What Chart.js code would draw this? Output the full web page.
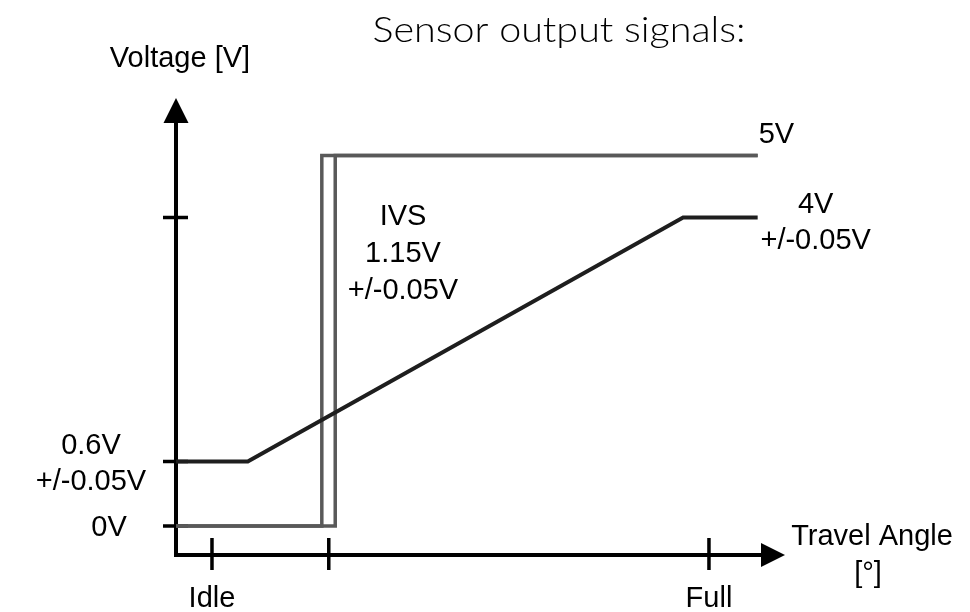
<!DOCTYPE html>
<html>
<head>
<meta charset="utf-8">
<title>Sensor output signals</title>
<script src="https://cdn.jsdelivr.net/npm/chart.js@4.4.1/dist/chart.umd.min.js"></script>
<style>
  html, body { margin: 0; padding: 0; background: #fff; }
  canvas { display: block; }
</style>
</head>
<body>
<canvas id="sensorChart" width="970" height="612"></canvas>
<script>
'use strict';

// x: pedal travel in % (Idle = 0, Full = 100)
// y: the diagram's own level above the travel axis (the sketch is not to scale)
const travelMin = -7.24;
const travelMax = 115.3;
const levelMax = 457;

// IVS switch signal, two edges for the switch point tolerance
const ivsLowTravel = [travelMin, 22.1, 22.1, 109.8];
const ivsHighTravel = [travelMin, 24.8, 24.8, 109.8];
const ivsLevels = [29, 29, 399.5, 399.5];

// Analog sensor signal
const appsTravel = [travelMin, 7.2, 94.8, 109.8];
const appsLevels = [93.5, 93.5, 337.5, 337.5];

// Tick marks and their labels
const travelTicks = [0, 23.5, 100];
const travelTickLabels = ['Idle', '', 'Full'];
const levelTicks = [29, 93.5, 337.5];
const levelTickLabels = [['0V'], ['0.6V', '+/-0.05V'], []];

const FONT = '"Liberation Sans", Arial, sans-serif';
const GREY = '#595959';
const INK = '#1e1e1e';

function toPoints(xs, ys) {
  return xs.map((x, i) => ({ x: x, y: ys[i] }));
}

function textLines(ctx, lines, cx, baseline, step) {
  lines.forEach((t, i) => ctx.fillText(t, cx, baseline + i * step));
}

// Axes with arrow heads, tick marks and all the annotation text
const diagramPlugin = {
  id: 'diagram',
  beforeDatasetsDraw(chart) {
    const ctx = chart.ctx;
    const xs = chart.scales.x;
    const ys = chart.scales.y;
    const x0 = xs.getPixelForValue(travelMin);
    const y0 = ys.getPixelForValue(0);
    const xEnd = xs.getPixelForValue(travelMax);
    const yEnd = ys.getPixelForValue(levelMax);

    ctx.save();
    ctx.strokeStyle = '#000';
    ctx.fillStyle = '#000';
    ctx.lineWidth = 4;
    ctx.beginPath();
    ctx.moveTo(x0, y0 + 2);
    ctx.lineTo(x0, yEnd + 20);
    ctx.moveTo(x0 - 2, y0);
    ctx.lineTo(xEnd - 20, y0);
    ctx.stroke();

    // arrow heads
    ctx.beginPath();
    ctx.moveTo(x0, yEnd);
    ctx.lineTo(x0 - 12.5, yEnd + 25);
    ctx.lineTo(x0 + 12.5, yEnd + 25);
    ctx.closePath();
    ctx.fill();
    ctx.beginPath();
    ctx.moveTo(xEnd, y0);
    ctx.lineTo(xEnd - 24, y0 - 12);
    ctx.lineTo(xEnd - 24, y0 + 12);
    ctx.closePath();
    ctx.fill();

    // tick marks
    ctx.lineWidth = 3.5;
    ctx.beginPath();
    travelTicks.forEach(v => {
      const px = xs.getPixelForValue(v);
      ctx.moveTo(px, y0 - 17);
      ctx.lineTo(px, y0 + 15);
    });
    levelTicks.forEach(v => {
      const py = ys.getPixelForValue(v);
      ctx.moveTo(x0 - 13, py);
      ctx.lineTo(x0 + 12, py);
    });
    ctx.stroke();
    ctx.restore();
  },
  afterDraw(chart) {
    const ctx = chart.ctx;
    const xs = chart.scales.x;
    const ys = chart.scales.y;
    const y0 = ys.getPixelForValue(0);

    ctx.save();
    ctx.fillStyle = '#000';
    ctx.textAlign = 'center';
    ctx.textBaseline = 'alphabetic';

    // title, thin round face squeezed to the reference width
    ctx.font = '300 35px Lato, "Open Sans", sans-serif';
    const title = 'Sensor output signals:';
    const sx = 373 / ctx.measureText(title).width;
    ctx.save();
    ctx.translate(559, 42);
    ctx.scale(sx, 1);
    ctx.fillText(title, 0, 0);
    ctx.restore();

    ctx.font = '29px ' + FONT;
    ctx.fillText('Voltage [V]', 180, 67);

    // travel tick labels
    travelTicks.forEach((v, i) => {
      if (travelTickLabels[i]) ctx.fillText(travelTickLabels[i], xs.getPixelForValue(v), y0 + 52);
    });
    ctx.fillText('Travel Angle', 872, 545);
    ctx.fillText('[\u00b0]', 868, 582);

    // level tick labels
    const labelCenters = [109, 91, 91];
    levelTicks.forEach((v, i) => {
      const lines = levelTickLabels[i];
      if (!lines.length) return;
      const py = ys.getPixelForValue(v);
      const first = py + 10 - (lines.length - 1) * 18;
      textLines(ctx, lines, labelCenters[i], first, 36);
    });

    // signal annotations
    const endX = xs.getPixelForValue(ivsLowTravel[3]);
    const topY = ys.getPixelForValue(ivsLevels[3]);
    const appsY = ys.getPixelForValue(appsLevels[3]);
    ctx.textAlign = 'left';
    ctx.fillText('5V', endX + 1, topY - 13);
    ctx.textAlign = 'center';
    textLines(ctx, ['4V', '+/-0.05V'], endX + 58, appsY - 5, 36);
    textLines(ctx, ['IVS', '1.15V', '+/-0.05V'], 403, 225, 37);
    ctx.restore();
  }
};

new Chart(document.getElementById('sensorChart').getContext('2d'), {
  type: 'line',
  data: {
    datasets: [
      {
        label: 'Analog signal',
        data: toPoints(appsTravel, appsLevels),
        borderColor: INK,
        borderWidth: 4
      },
      {
        label: 'IVS low edge',
        data: toPoints(ivsLowTravel, ivsLevels),
        borderColor: GREY,
        borderWidth: 3.5
      },
      {
        label: 'IVS high edge',
        data: toPoints(ivsHighTravel, ivsLevels),
        borderColor: GREY,
        borderWidth: 3.5
      }
    ]
  },
  options: {
    responsive: false,
    animation: false,
    events: [],
    parsing: false,
    layout: { padding: { left: 176, top: 98, right: 185, bottom: 57 } },
    elements: {
      line: { tension: 0, fill: false, borderJoinStyle: 'miter', borderCapStyle: 'butt' },
      point: { radius: 0 }
    },
    scales: {
      x: { type: 'linear', min: travelMin, max: travelMax, display: false },
      y: { type: 'linear', min: 0, max: levelMax, display: false }
    },
    plugins: { legend: { display: false }, tooltip: { enabled: false } }
  },
  plugins: [diagramPlugin]
});
</script>
</body>
</html>
